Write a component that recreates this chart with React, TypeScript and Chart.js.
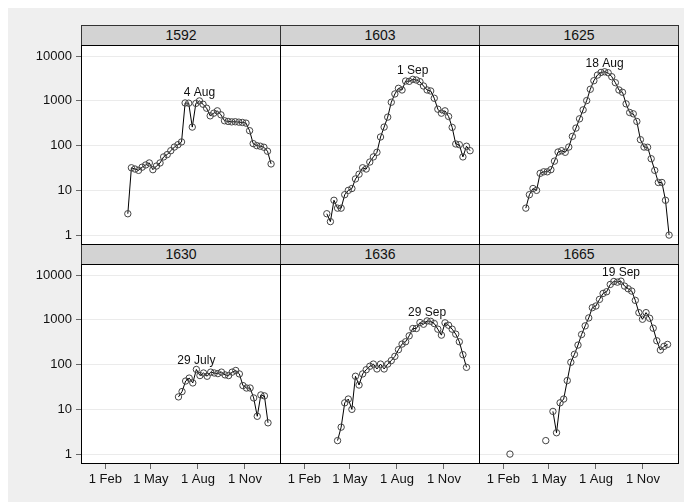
import React, { useEffect, useRef } from "react";
import { Chart, registerables } from "chart.js";

Chart.register(...registerables);

// ---- data ----
const years = ["1592", "1603", "1625", "1630", "1636", "1665"];
// day-of-year of the first weekly bill in each series
const startDays = [76, 76, 76, 175, 97, 45];
const peakLabels = ["4 Aug", "1 Sep", "18 Aug", "29 July", "29 Sep", "19 Sep"];

const deaths1592 = [3, 32, 30, 28, 33, 37, 41, 29, 35, 41, 56, 63, 77, 93, 105, 121, 900, 890, 260, 880, 1000, 843, 687, 464, 532, 600, 489, 360, 348, 340, 342, 335, 330, 319, 216, 111, 100, 97, 92, 75, 39];
const deaths1603 = [3, 2, 6, 4, 4, 8, 10, 11, 18, 23, 32, 30, 43, 56, 71, 156, 260, 434, 934, 1432, 1913, 1757, 2786, 2738, 3034, 2930, 2691, 2157, 1757, 1670, 1148, 653, 532, 600, 449, 256, 109, 105, 56, 97, 77];
const deaths1625 = [4, 8, 11, 10, 24, 26, 26, 29, 45, 72, 77, 71, 93, 161, 247, 398, 631, 1018, 1820, 2831, 3784, 4337, 4487, 4260, 3475, 2558, 1757, 1560, 860, 551, 515, 348, 136, 93, 92, 51, 28, 15, 15, 6, 1];
const deaths1630 = [19, 25, 43, 50, 39, 78, 57, 65, 55, 68, 65, 63, 68, 59, 57, 68, 74, 62, 34, 30, 30, 18, 7, 21, 20, 5];
const deaths1636 = [2, 4, 14, 17, 10, 55, 35, 62, 77, 92, 103, 80, 103, 80, 103, 123, 153, 216, 288, 325, 441, 642, 642, 873, 801, 950, 930, 830, 621, 457, 860, 760, 621, 481, 325, 167, 87];
const deaths1665 = [1, null, null, null, null, null, null, null, null, null, 2, null, 9, 3, 14, 17, 44, 113, 170, 274, 472, 736, 1109, 1880, 2047, 2877, 3914, 4266, 6209, 7230, 6997, 7363, 5702, 4977, 4416, 2738, 1455, 1035, 1455, 1090, 653, 342, 212, 256, 283];

const series = [deaths1592, deaths1603, deaths1625, deaths1630, deaths1636, deaths1665];

const xTickDays = [32, 121, 213, 305];
const xTickLabels = ["1 Feb", "1 May", "1 Aug", "1 Nov"];
const yTickValues = [1, 10, 100, 1000, 10000];

// ---- layout ----
const FONT = "'Liberation Sans', Arial, Helvetica, sans-serif";
const PLOT_LEFT = 81;
const STEP_X = 199;
const PLOT_W = 200;
const PLOT_H = 200;
const ROW_TOP = [45, 264];
const Y_AXIS_W = 60;
const X_AXIS_H = 30;

const framePlugin = {
  id: "frame",
  beforeDraw(chart: any) {
    const { ctx, chartArea } = chart;
    ctx.save();
    ctx.fillStyle = "#fff";
    ctx.fillRect(chartArea.left, chartArea.top, chartArea.right - chartArea.left, chartArea.bottom - chartArea.top);
    ctx.restore();
  },
  afterDraw(chart: any) {
    const { ctx, chartArea } = chart;
    ctx.save();
    ctx.strokeStyle = "#000";
    ctx.lineWidth = 1;
    ctx.strokeRect(chartArea.left + 0.5, chartArea.top + 0.5, chartArea.right - chartArea.left - 1, chartArea.bottom - chartArea.top - 1);
    ctx.restore();
  },
};

function makePeakPlugin(label: string) {
  return {
    id: "peakLabel",
    afterDatasetsDraw(chart: any) {
      const ds = chart.data.datasets[0].data as any[];
      let best = -1;
      let bestV = -Infinity;
      ds.forEach((p, i) => {
        if (p.y != null && p.y > bestV) {
          bestV = p.y;
          best = i;
        }
      });
      if (best < 0) return;
      const x = chart.scales.x.getPixelForValue(ds[best].x);
      const y = chart.scales.y.getPixelForValue(ds[best].y);
      const ctx = chart.ctx;
      ctx.save();
      ctx.font = `12px ${FONT}`;
      ctx.fillStyle = "#111";
      ctx.textAlign = "center";
      ctx.textBaseline = "alphabetic";
      ctx.fillText(label, x, y - 5);
      ctx.restore();
    },
  };
}

function Panel({ idx }: { idx: number }) {
  const ref = useRef<HTMLCanvasElement>(null);
  const row = Math.floor(idx / 3);
  const col = idx % 3;
  const yW = col === 0 ? Y_AXIS_W : 0;
  const xH = row === 1 ? X_AXIS_H : 0;
  const left = PLOT_LEFT + STEP_X * col - yW;
  const top = ROW_TOP[row];
  const width = yW + PLOT_W;
  const height = PLOT_H + xH;

  useEffect(() => {
    if (!ref.current) return;
    const values = series[idx];
    const start = startDays[idx];
    const data = values.map((v, i) => ({ x: start + 7 * i, y: v }));
    const chart = new Chart(ref.current, {
      type: "line",
      data: {
        datasets: [
          {
            data: data as any,
            borderColor: "#000",
            borderWidth: 1,
            pointRadius: 3.2,
            pointBorderWidth: 1,
            pointBorderColor: "#444",
            pointBackgroundColor: "rgba(0,0,0,0)",
            spanGaps: false,
            tension: 0,
            fill: false,
            clip: false,
          },
        ],
      },
      options: {
        animation: false,
        responsive: false,
        devicePixelRatio: 1,
        layout: { padding: 0, autoPadding: false },
        plugins: { legend: { display: false }, tooltip: { enabled: false } },
        scales: {
          x: {
            type: "linear",
            min: -15.5,
            max: 375.4,
            afterFit: (s: any) => {
              s.height = xH;
              s.paddingLeft = 0;
              s.paddingRight = 0;
            },
            afterBuildTicks: (s: any) => {
              s.ticks = xTickDays.map((v) => ({ value: v }));
            },
            grid: { display: true, drawOnChartArea: false, drawTicks: row === 1, tickLength: 5, tickColor: "#666" },
            border: { display: false },
            ticks: {
              display: row === 1,
              autoSkip: false,
              maxRotation: 0,
              padding: 3,
              color: "#111",
              font: { family: FONT, size: 13 },
              callback: (v: any) => xTickLabels[xTickDays.indexOf(Number(v))] ?? "",
            },
          },
          y: {
            type: "logarithmic",
            min: 0.64,
            max: 17800,
            afterFit: (s: any) => {
              s.width = yW;
              s.paddingTop = 0;
              s.paddingBottom = 0;
            },
            afterBuildTicks: (s: any) => {
              s.ticks = yTickValues.map((v) => ({ value: v }));
            },
            grid: { display: true, color: "#ebebeb", lineWidth: 1, drawTicks: col === 0, tickLength: 5, tickColor: "#666" },
            border: { display: false },
            ticks: {
              display: col === 0,
              padding: 4,
              color: "#111",
              font: { family: FONT, size: 13 },
              callback: (v: any) => String(v),
            },
          },
        },
      } as any,
      plugins: [framePlugin, makePeakPlugin(peakLabels[idx])],
    });
    return () => chart.destroy();
  }, [idx]);

  return (
    <canvas
      ref={ref}
      width={width}
      height={height}
      style={{ position: "absolute", left, top, width, height }}
    />
  );
}

export default function App() {
  useEffect(() => {
    document.body.style.margin = "0";
  }, []);
  return (
    <div style={{ position: "fixed", left: 0, top: 0, width: 684, height: 502, background: "#fff", overflow: "hidden" }}>
      <div style={{ position: "absolute", left: 8, top: 8, width: 676, height: 494, background: "#efefef" }} />
      {years.map((yr, i) => {
        const row = Math.floor(i / 3);
        const col = i % 3;
        return (
          <div
            key={"s" + yr}
            style={{
              position: "absolute",
              left: PLOT_LEFT + STEP_X * col,
              top: 25 + 219 * row,
              width: 200,
              height: 21,
              boxSizing: "border-box",
              border: "1px solid #333",
              background: "#d3d3d3",
              fontFamily: FONT,
              fontSize: 14,
              lineHeight: "19px",
              textAlign: "center",
              color: "#111",
            }}
          >
            {yr}
          </div>
        );
      })}
      {years.map((yr, i) => (
        <Panel key={yr} idx={i} />
      ))}
    </div>
  );
}
